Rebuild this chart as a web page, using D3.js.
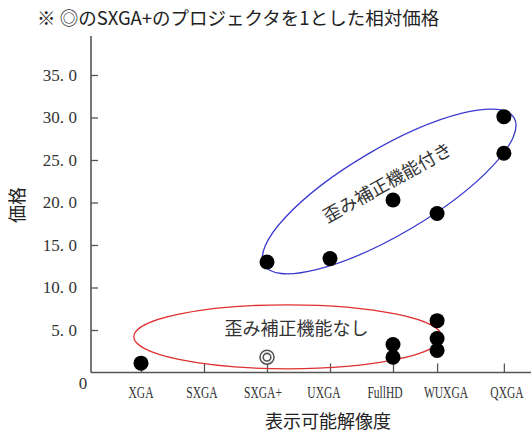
<!DOCTYPE html>
<html>
<head>
<meta charset="utf-8">
<script src="https://cdn.jsdelivr.net/npm/d3@7"></script>
<style>
  html, body { margin: 0; padding: 0; background: #fff; }
  svg { display: block; }
</style>
</head>
<body>
<svg id="chart" width="531" height="432"></svg>
<script>
// Resolution categories and where each one sits along the x axis
const categories = ["XGA", "SXGA", "SXGA+", "UXGA", "FullHD", "WUXGA", "QXGA"];
const categorySlots = [1, 2, 3, 4, 5, 5.7, 6.76];

// Projectors with keystone (distortion) correction
const withCorrectionRes = ["SXGA+", "UXGA", "FullHD", "WUXGA", "QXGA", "QXGA"];
const withCorrectionPrice = [13.0, 13.4, 20.3, 18.7, 30.1, 25.8];

// Projectors without keystone correction
const withoutCorrectionRes = ["XGA", "FullHD", "FullHD", "WUXGA", "WUXGA", "WUXGA"];
const withoutCorrectionPrice = [1.1, 3.3, 1.8, 6.1, 4.0, 2.6];

// The SXGA+ projector used as the price baseline (◎)
const baselineRes = ["SXGA+"];
const baselinePrice = [1.8];

const yTicks = [5, 10, 15, 20, 25, 30, 35];

const titleText = "※ ◎のSXGA+のプロジェクタを1とした相対価格";
const xTitle = "表示可能解像度";
const yTitle = "価格";
const groupWith = "歪み補正機能付き";
const groupWithout = "歪み補正機能なし";

const svg = d3.select("#chart");
const jp = "'Noto Sans CJK JP', 'Noto Sans', sans-serif";
const serif = "'Liberation Serif', 'DejaVu Serif', serif";
const axisColor = "#555";

const slotOf = name => categorySlots[categories.indexOf(name)];

const x = d3.scaleLinear().domain([1, 7]).range([141, 519]);
const y = d3.scaleLinear().domain([0, 35]).range([372.5, 75]);
const axisX0 = 91, axisX1 = 531, axisTop = 36;

// Title
svg.append("text")
  .attr("x", 37).attr("y", 25)
  .attr("font-family", jp).attr("font-size", 18.5)
  .attr("fill", "#222")
  .text(titleText);

// Y axis
const yAxis = svg.append("g")
  .attr("transform", `translate(${axisX0},0)`)
  .call(d3.axisLeft(y).tickValues(yTicks).tickSize(-7).tickPadding(14)
    .tickFormat(d => d.toFixed(1)));
yAxis.select(".domain").remove();
yAxis.selectAll(".tick line").attr("stroke", axisColor).attr("stroke-width", 1.3);
yAxis.selectAll(".tick text")
  .attr("font-family", serif).attr("font-size", 17).attr("fill", "#333")
  .each(function (d) {
    const [ip, dp] = d.toFixed(1).split(".");
    const t = d3.select(this).text("");
    t.append("tspan").text(ip);
    t.append("tspan").text(".");
    t.append("tspan").attr("dx", 4.5).text(dp);
  });

svg.append("line")
  .attr("x1", axisX0).attr("x2", axisX0)
  .attr("y1", axisTop).attr("y2", y(0))
  .attr("stroke", axisColor).attr("stroke-width", 1.6);

// "0" at the origin, set below the corner
svg.append("text")
  .attr("x", axisX0 - 8).attr("y", y(0) + 16)
  .attr("text-anchor", "middle")
  .attr("font-family", serif).attr("font-size", 17).attr("fill", "#333")
  .text("0");

// X axis: tick marks at each category slot
const xAxis = svg.append("g")
  .attr("transform", `translate(0,${y(0)})`)
  .call(d3.axisBottom(x).tickValues(categorySlots).tickSize(-9).tickFormat(""));
xAxis.select(".domain").remove();
xAxis.selectAll(".tick line").attr("stroke", axisColor).attr("stroke-width", 1.3);

svg.append("line")
  .attr("x1", axisX0).attr("x2", axisX1)
  .attr("y1", y(0)).attr("y2", y(0))
  .attr("stroke", axisColor).attr("stroke-width", 1.6);

// Category labels, evenly spread under the axis, in a narrow serif
const labelX = d3.scalePoint().domain(categories).range([141, 507]);
svg.append("g").selectAll("text")
  .data(categories)
  .join("text")
  .attr("transform", d => `translate(${labelX(d)},398) scale(0.72,1)`)
  .attr("text-anchor", "middle")
  .attr("font-family", serif).attr("font-size", 16).attr("fill", "#333")
  .text(d => d);

// Axis titles
svg.append("text")
  .attr("x", 328).attr("y", 428)
  .attr("text-anchor", "middle")
  .attr("font-family", jp).attr("font-size", 18).attr("fill", "#222")
  .text(xTitle);

svg.append("text")
  .attr("transform", `translate(24,${y(19.7)}) rotate(-90)`)
  .attr("text-anchor", "middle")
  .attr("font-family", jp).attr("font-size", 18).attr("fill", "#222")
  .text(yTitle);

// Group outlines
svg.append("ellipse")
  .attr("transform", `translate(${x(4.94)},${y(21.3)}) rotate(-30.5)`)
  .attr("rx", 145).attr("ry", 43)
  .attr("fill", "none").attr("stroke", "#3a3ad0").attr("stroke-width", 1.3);

svg.append("ellipse")
  .attr("cx", x(3.33)).attr("cy", y(4.2))
  .attr("rx", 154).attr("ry", 32)
  .attr("fill", "none").attr("stroke", "#e03030").attr("stroke-width", 1.3);

// Group labels
svg.append("text")
  .attr("transform", `translate(${x(4.9)},${y(22.5)}) rotate(-29)`)
  .attr("text-anchor", "middle").attr("dominant-baseline", "central")
  .attr("font-family", jp).attr("font-size", 18).attr("fill", "#333")
  .text(groupWith);

svg.append("text")
  .attr("x", x(3.47)).attr("y", y(5.4))
  .attr("text-anchor", "middle").attr("dominant-baseline", "central")
  .attr("font-family", jp).attr("font-size", 18).attr("fill", "#333")
  .text(groupWithout);

// Price points
const dots = svg.append("g");
dots.selectAll("circle.with")
  .data(d3.zip(withCorrectionRes, withCorrectionPrice))
  .join("circle").attr("class", "with")
  .attr("cx", d => x(slotOf(d[0]))).attr("cy", d => y(d[1]))
  .attr("r", 7.5).attr("fill", "#000");

dots.selectAll("circle.without")
  .data(d3.zip(withoutCorrectionRes, withoutCorrectionPrice))
  .join("circle").attr("class", "without")
  .attr("cx", d => x(slotOf(d[0]))).attr("cy", d => y(d[1]))
  .attr("r", 7.5).attr("fill", "#000");

// Baseline projector drawn as a double ring (◎)
const base = svg.append("g").selectAll("g")
  .data(d3.zip(baselineRes, baselinePrice))
  .join("g")
  .attr("transform", d => `translate(${x(slotOf(d[0]))},${y(d[1])})`);
base.append("circle").attr("r", 7).attr("fill", "#fff")
  .attr("stroke", "#555").attr("stroke-width", 1.6);
base.append("circle").attr("r", 3.8).attr("fill", "none")
  .attr("stroke", "#555").attr("stroke-width", 1.6);
</script>
</body>
</html>
